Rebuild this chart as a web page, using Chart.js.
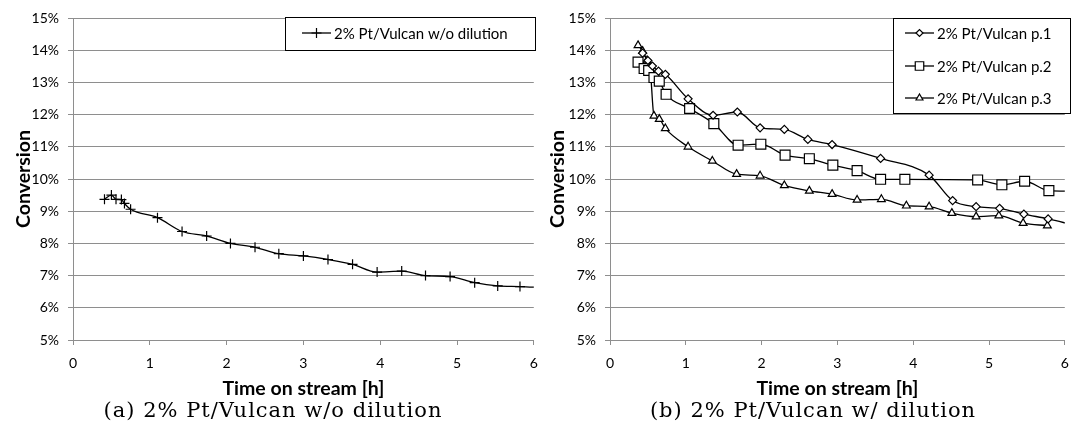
<!DOCTYPE html>
<html>
<head>
<meta charset="utf-8">
<script src="https://cdn.jsdelivr.net/npm/chart.js@4"></script>
<style>
  body { margin: 0; background: #fff; }
  #wrap { position: relative; width: 1073px; height: 432px; overflow: hidden; }
  .pane { position: absolute; top: 0; height: 400px; }
  .caption {
    position: absolute; top: 398px; width: 500px; text-align: center;
    font-family: "DejaVu Serif", serif; font-size: 21px; letter-spacing: 1px;
    line-height: normal; color: #000; white-space: nowrap;
  }
</style>
</head>
<body>
<div id="wrap">
  <div class="pane" style="left:0;width:540px"><canvas id="chartA"></canvas></div>
  <div class="pane" style="left:540px;width:533px"><canvas id="chartB"></canvas></div>
  <div class="caption" style="left:23px">(a) 2% Pt/Vulcan w/o dilution</div>
  <div class="caption" style="left:563px">(b) 2% Pt/Vulcan w/ dilution</div>
</div>
<script>
// (a) without dilution
const timeA = [0.41, 0.50, 0.56, 0.63, 0.67, 0.75, 1.10, 1.42, 1.74, 2.05, 2.37, 2.68, 3.00,
  3.32, 3.64, 3.96, 4.28, 4.59, 4.91, 5.23, 5.53, 5.82, 6.15];
const convA = [9.37, 9.50, 9.37, 9.36, 9.24, 9.06, 8.80, 8.37, 8.23, 8.00, 7.88, 7.68, 7.61,
  7.50, 7.35, 7.11, 7.14, 7.00, 6.97, 6.78, 6.68, 6.66, 6.62];

// (b) with dilution
const timeP1 = [0.43, 0.50, 0.56, 0.64, 0.73, 1.03, 1.36, 1.68, 1.98, 2.30, 2.61, 2.93, 3.57,
  4.21, 4.52, 4.83, 5.14, 5.46, 5.78, 6.10];
const convP1 = [13.91, 13.68, 13.51, 13.35, 13.25, 12.49, 11.98, 12.08, 11.59, 11.54, 11.23, 11.07, 10.64,
  10.12, 9.33, 9.14, 9.09, 8.91, 8.76, 8.58];

const timeP2 = [0.37, 0.45, 0.51, 0.58, 0.65, 0.74, 1.05, 1.37, 1.69, 1.99, 2.31, 2.63, 2.94,
  3.26, 3.57, 3.89, 4.85, 5.17, 5.47, 5.79, 6.10];
const convP2 = [13.63, 13.43, 13.37, 13.15, 13.04, 12.63, 12.19, 11.72, 11.05, 11.08, 10.74, 10.63, 10.43,
  10.26, 9.99, 9.99, 9.97, 9.82, 9.93, 9.64, 9.62];

const timeP3 = [0.37, 0.43, 0.49, 0.53, 0.58, 0.65, 0.73, 1.03, 1.35, 1.67, 1.98, 2.30, 2.63,
  2.93, 3.26, 3.58, 3.91, 4.21, 4.51, 4.83, 5.13, 5.45, 5.77];
const convP3 = [14.15, 13.97, 13.68, 13.43, 11.96, 11.86, 11.57, 11.00, 10.56, 10.15, 10.10, 9.80, 9.63,
  9.53, 9.35, 9.37, 9.17, 9.14, 8.94, 8.83, 8.86, 8.63, 8.55];

const labelsA = ['2% Pt/Vulcan w/o dilution'];
const labelsB = ['2% Pt/Vulcan p.1', '2% Pt/Vulcan p.2', '2% Pt/Vulcan p.3'];

const xTitle = 'Time on stream [h]';
const yTitle = 'Conversion';

const GRID = '#8e8e8e';
const FONT = 'Lato, "Open Sans", sans-serif';

function pairs(xs, ys) {
  return xs.map((x, i) => ({ x: x, y: ys[i] }));
}

function series(label, xs, ys, style, radius) {
  return {
    label: label,
    data: pairs(xs, ys),
    borderColor: '#000',
    borderWidth: 1.3,
    backgroundColor: '#fff',
    pointStyle: style,
    pointRadius: radius,
    pointBorderColor: '#000',
    pointBackgroundColor: '#fff',
    pointBorderWidth: 1.2,
    cubicInterpolationMode: 'monotone'
  };
}

/**
 * Legend drawn inside the plot, in a framed box
 */
const boxLegend = {
  id: 'boxLegend',
  afterDraw(chart, args, opts) {
    const ctx = chart.ctx;
    ctx.save();
    ctx.fillStyle = '#fff';
    ctx.fillRect(opts.x, opts.y, opts.w, opts.h);
    ctx.strokeStyle = '#000';
    ctx.lineWidth = 1;
    ctx.strokeRect(opts.x + 0.5, opts.y + 0.5, opts.w, opts.h);
    chart.data.datasets.forEach((ds, i) => {
      const cy = opts.y + opts.rowY[i];
      const lx = opts.x + opts.lineX;
      ctx.strokeStyle = '#000';
      ctx.lineWidth = 1.3;
      ctx.beginPath();
      ctx.moveTo(lx, cy);
      ctx.lineTo(lx + opts.lineW, cy);
      ctx.stroke();
      ctx.fillStyle = '#fff';
      ctx.lineWidth = 1.2;
      Chart.helpers.drawPoint(ctx, {
        pointStyle: ds.pointStyle,
        radius: opts.markR[i],
        borderWidth: 1.2,
        rotation: 0
      }, lx + opts.lineW / 2, cy);
      ctx.fillStyle = '#000';
      ctx.font = opts.font;
      ctx.textBaseline = 'middle';
      ctx.textAlign = 'left';
      ctx.fillText(ds.label, lx + opts.lineW + 3, cy + 1);
    });
    ctx.restore();
  }
};

function makeOptions(yWidth, padRight, yTitlePad, legend) {
  return {
    responsive: true,
    maintainAspectRatio: false,
    animation: false,
    layout: { padding: { left: 0, right: padRight, top: 18, bottom: 0 } },
    plugins: {
      legend: { display: false },
      tooltip: { enabled: false },
      boxLegend: legend
    },
    scales: {
      x: {
        type: 'linear',
        min: 0,
        max: 6,
        afterFit(scale) {
          scale.height = 60;
          scale.paddingLeft = 0;
          scale.paddingRight = 0;
        },
        ticks: {
          stepSize: 1,
          maxRotation: 0,
          padding: 10,
          color: '#000',
          font: { family: FONT, size: 14 }
        },
        grid: { drawOnChartArea: false, drawTicks: true, tickLength: 5, color: GRID },
        border: { color: GRID },
        title: {
          display: true,
          text: xTitle,
          color: '#000',
          padding: { top: 0, bottom: 0 },
          font: { family: FONT, size: 19.5, weight: 'bold' }
        }
      },
      y: {
        min: 5,
        max: 15,
        afterFit(scale) {
          scale.width = yWidth;
          scale.paddingTop = 0;
          scale.paddingBottom = 0;
        },
        ticks: {
          stepSize: 1,
          padding: 9,
          color: '#000',
          font: { family: FONT, size: 14 },
          callback: v => v + '%'
        },
        grid: { color: GRID, tickLength: 5 },
        border: { color: GRID },
        title: {
          display: true,
          text: yTitle,
          color: '#000',
          padding: { top: yTitlePad, bottom: 0 },
          font: { family: FONT, size: 19.5, weight: 'bold' }
        }
      }
    }
  };
}

new Chart(document.getElementById('chartA'), {
  type: 'line',
  data: {
    datasets: [series(labelsA[0], timeA, convA, 'cross', 5)]
  },
  options: makeOptions(73, 5, 12, {
    x: 285, y: 17, w: 250, h: 33,
    lineX: 17, lineW: 29,
    rowY: [16],
    markR: [5],
    font: '15px ' + FONT
  }),
  plugins: [boxLegend]
});

new Chart(document.getElementById('chartB'), {
  type: 'line',
  data: {
    datasets: [
      series(labelsB[0], timeP1, convP1, 'rectRot', 4),
      series(labelsB[1], timeP2, convP2, 'rect', 7),
      series(labelsB[2], timeP3, convP3, 'triangle', 4.5)
    ]
  },
  options: makeOptions(70, 2, 6, {
    x: 353, y: 18, w: 177, h: 95,
    lineX: 12, lineW: 29,
    rowY: [15, 48, 80],
    markR: [3.5, 6, 4],
    font: '15px ' + FONT
  }),
  plugins: [boxLegend]
});
</script>
</body>
</html>
